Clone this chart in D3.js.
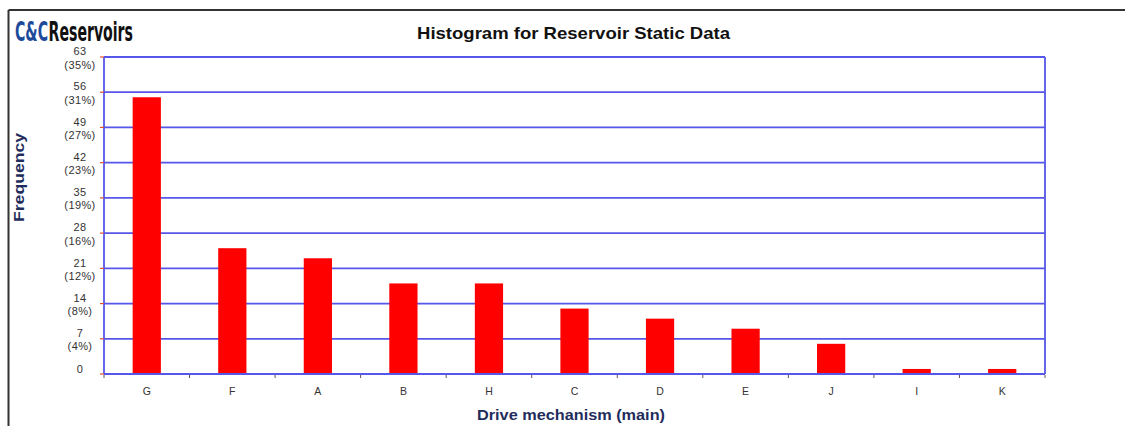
<!DOCTYPE html>
<html><head><meta charset="utf-8">
<script src="https://cdn.jsdelivr.net/npm/d3@7"></script>
<style>html,body{margin:0;padding:0;background:#fff;}svg{display:block;}</style>
</head><body>
<script>
const categories = ["G","F","A","B","H","C","D","E","J","I","K"];
const frequency = [55,25,23,18,18,13,11,9,6,1,1];
const yTickValues = [0,7,14,21,28,35,42,49,56,63];
const yTickPct = ["","(4%)","(8%)","(12%)","(16%)","(19%)","(23%)","(27%)","(31%)","(35%)"];

const W = 1125, H = 426;
const svg = d3.select("body").append("svg").attr("width", W).attr("height", H);
const m = {left:104, right:1045, top:57, bottom:374};
const font = "Arial, 'Liberation Sans', sans-serif";

// outer frame
svg.append("line").attr("x1",8.5).attr("x2",W).attr("y1",10).attr("y2",10).attr("stroke","#333").attr("stroke-width",2);
svg.append("line").attr("x1",8.5).attr("x2",8.5).attr("y1",10).attr("y2",H).attr("stroke","#333").attr("stroke-width",2);

// logo (condensed via horizontal scale)
const logoFont = "'Liberation Sans Narrow', 'DejaVu Sans Condensed', sans-serif";
const logoG = svg.append("g");
const t1 = logoG.append("text").attr("x",0).attr("y",0).attr("font-family",logoFont)
  .attr("font-weight","bold").attr("font-size",26).attr("fill","#1d4a9a").text("C&C");
const w1 = t1.node().getComputedTextLength();
const t2 = logoG.append("text").attr("x",w1+1).attr("y",0).attr("font-family",logoFont)
  .attr("font-weight","bold").attr("font-size",26).attr("fill","#111").text("Reservoirs");
const w2 = t2.node().getComputedTextLength();
const sx = 118/(w1+1+w2);
logoG.attr("transform",`translate(15,41) scale(${sx},1)`);

// title
svg.append("text").attr("x",417).attr("y",39)
  .attr("font-family",font).attr("font-weight","bold")
  .attr("font-size",17).attr("fill","#111")
  .attr("textLength",313).attr("lengthAdjust","spacingAndGlyphs")
  .text("Histogram for Reservoir Static Data");

const x = d3.scaleBand().domain(categories).range([m.left, m.right]).paddingInner(0.67).paddingOuter(0.335);
const y = d3.scaleLinear().domain([0,63]).range([m.bottom, m.top]);

const gridColor = "#5656ea";
svg.append("g").selectAll("line").data(yTickValues).join("line")
  .attr("x1",m.left).attr("x2",m.right).attr("y1",d=>y(d)).attr("y2",d=>y(d))
  .attr("stroke",gridColor).attr("stroke-width",1.8);
svg.append("line").attr("x1",m.left).attr("x2",m.left).attr("y1",m.top).attr("y2",m.bottom).attr("stroke",gridColor).attr("stroke-width",1.8);
svg.append("line").attr("x1",m.right).attr("x2",m.right).attr("y1",m.top).attr("y2",m.bottom).attr("stroke",gridColor).attr("stroke-width",1.8);

// y ticks
svg.append("g").selectAll("line").data(yTickValues).join("line")
  .attr("x1",m.left-4).attr("x2",m.left).attr("y1",d=>y(d)).attr("y2",d=>y(d))
  .attr("stroke","#e05030").attr("stroke-width",1.2);

// x ticks at category boundaries
const bounds = d3.range(categories.length+1).map(i => m.left + i*(m.right-m.left)/categories.length);
svg.append("g").selectAll("line").data(bounds).join("line")
  .attr("x1",d=>d).attr("x2",d=>d).attr("y1",m.bottom+1).attr("y2",m.bottom+4)
  .attr("stroke","#6a5050").attr("stroke-width",1);

// bars
svg.append("g").selectAll("rect").data(categories).join("rect")
  .attr("x",d=>x(d)).attr("width",x.bandwidth())
  .attr("y",(d,i)=>y(frequency[i])).attr("height",(d,i)=>y(0)-y(frequency[i]))
  .attr("fill","#ff0000");
svg.append("line").attr("x1",m.left).attr("x2",m.right).attr("y1",y(0)).attr("y2",y(0)).attr("stroke",gridColor).attr("stroke-width",1.8);

// y labels
const yl = svg.append("g").attr("font-family",font).attr("font-size",11).attr("fill","#333")
  .attr("text-anchor","middle").attr("letter-spacing",0.4);
yTickValues.forEach((v,i)=>{
  if (v===0) {
    yl.append("text").attr("x",80).attr("y",y(v)-1).text(String(v));
  } else {
    yl.append("text").attr("x",80).attr("y",y(v)-1.8).text(String(v));
    yl.append("text").attr("x",80).attr("y",y(v)+11.5).text(yTickPct[i]);
  }
});

// x labels
svg.append("g").selectAll("text").data(categories).join("text")
  .attr("x",d=>x(d)+x.bandwidth()/2).attr("y",395).attr("text-anchor","middle")
  .attr("font-family",font).attr("font-size",10.5).attr("fill","#333")
  .text(d=>d);

// axis titles
svg.append("text").attr("x",477).attr("y",420)
  .attr("font-family",font).attr("font-weight","bold")
  .attr("font-size",15.5).attr("fill","#1f2d5c")
  .attr("textLength",188).attr("lengthAdjust","spacingAndGlyphs").text("Drive mechanism (main)");
svg.append("text").attr("transform","translate(24,222) rotate(-90)")
  .attr("font-family",font).attr("font-weight","bold")
  .attr("font-size",14.5).attr("fill","#1f2d5c")
  .attr("textLength",89).attr("lengthAdjust","spacingAndGlyphs").text("Frequency");
</script>
</body></html>
